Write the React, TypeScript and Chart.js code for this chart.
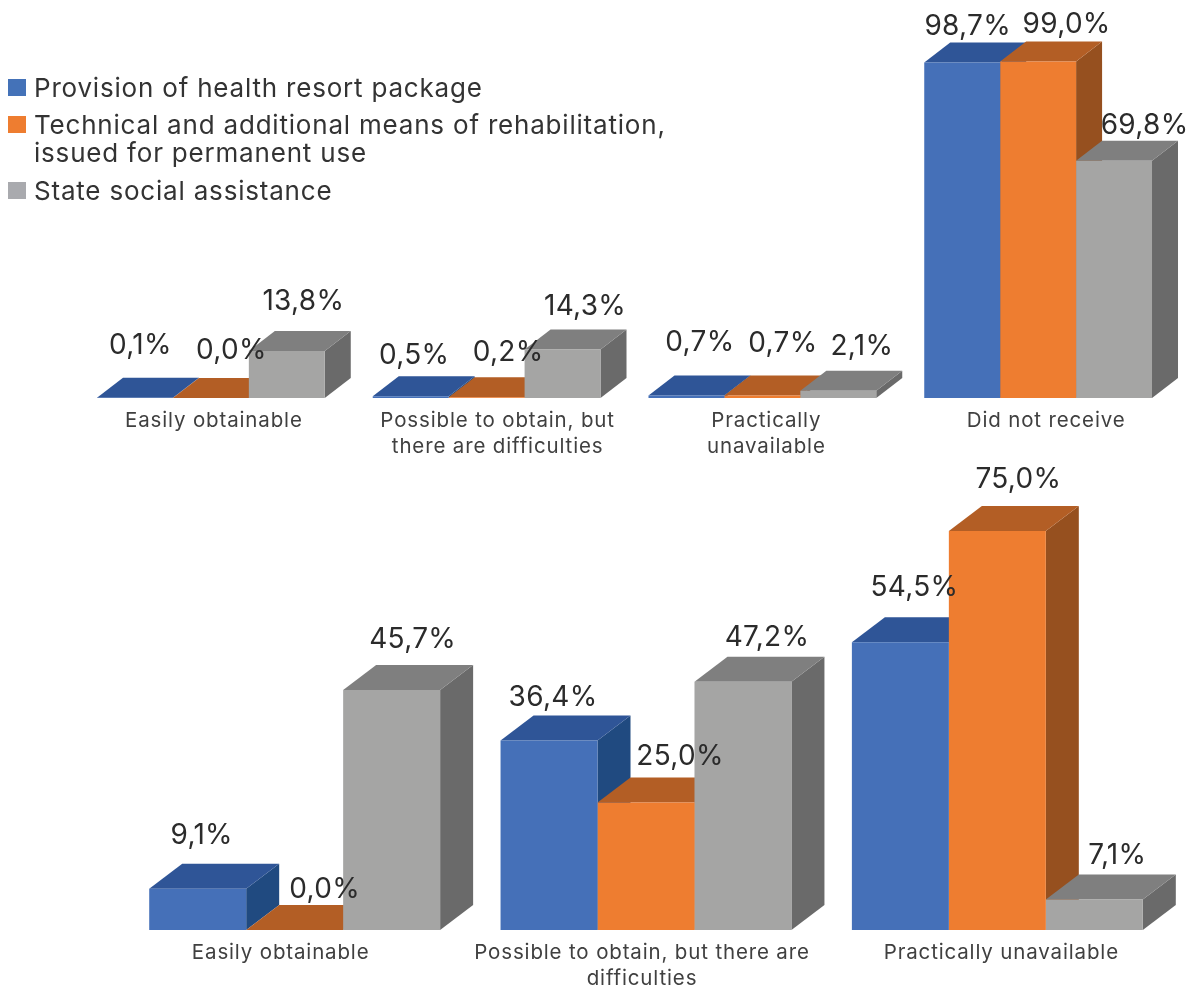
import React, { useEffect, useRef } from "react";
import { Chart, registerables } from "chart.js";

Chart.register(...registerables);

const FONT = "Inter";
const seriesNames = [
  ["Provision of health resort package"],
  ["Technical and additional means of rehabilitation,", "issued for permanent use"],
  ["State social assistance"],
];

const topCategories = [
  "Easily obtainable",
  ["Possible to obtain, but", "there are difficulties"],
  ["Practically", "unavailable"],
  "Did not receive",
];
const topResort = [0.1, 0.5, 0.7, 98.7];
const topMeans = [0.0, 0.2, 0.7, 99.0];
const topAssistance = [13.8, 14.3, 2.1, 69.8];

const bottomCategories = [
  "Easily obtainable",
  ["Possible to obtain, but there are", "difficulties"],
  "Practically unavailable",
];
const bottomResort = [9.1, 36.4, 54.5];
const bottomMeans = [0.0, 25.0, 75.0];
const bottomAssistance = [45.7, 47.2, 7.1];

const frontColors = ["#4570B8", "#EE7D30", "#A5A5A4"];
const topColors = ["#2F5597", "#B35E25", "#7F7F7F"];
const sideColors = ["#204A80", "#96501F", "#6A6A6A"];
const swatchColors = ["#4472B8", "#EE7D30", "#A9AAAE"];

const topLabelOffsets = [
  [[5, -53], [3, -42], [13, -54], [5, -37]],
  [[20, -48], [21, -46], [20, -53], [28, -38]],
  [[16, -51], [22, -44], [23, -45], [30, -36]],
];
const bottomLabelOffsets = [
  [[3.5, -54], [3.5, -44], [13.5, -56]],
  [[29.5, -41], [33.5, -47], [20.5, -52]],
  [[20.5, -51], [23.5, -45], [22.5, -45]],
];

type Cfg = {
  categories: any[];
  series: number[][];
  depthX: number;
  depthY: number;
  labelOffsets: number[][][];
  tickShift: number[];
  paddingLeft: number;
  paddingRight: number;
  axisHeight: number;
  tickPadding: number;
  yMin: number;
  yMax: number;
  catPct: number;
};

function makeChart(canvas: HTMLCanvasElement, cfg: Cfg) {
  const bars3d = {
    id: "bars3d",
    beforeDraw(chart: any) {
      chart.ctx.letterSpacing = "0.85px";
    },
    beforeDatasetsDraw(chart: any) {
      const ctx = chart.ctx;
      const dx = cfg.depthX;
      const dy = cfg.depthY;
      chart.data.datasets.forEach((_: any, d: number) => {
        chart.getDatasetMeta(d).data.forEach((bar: any) => {
          const l = bar.x - bar.width / 2;
          const r = bar.x + bar.width / 2;
          const b = chart.scales.y.bottom;
          const t = Math.min(bar.y, b);
          ctx.fillStyle = sideColors[d];
          ctx.beginPath();
          ctx.moveTo(r, t);
          ctx.lineTo(r + dx, t - dy);
          ctx.lineTo(r + dx, b - dy);
          ctx.lineTo(r, b);
          ctx.closePath();
          ctx.fill();
          ctx.fillStyle = topColors[d];
          ctx.beginPath();
          ctx.moveTo(l, t);
          ctx.lineTo(l + dx, t - dy);
          ctx.lineTo(r + dx, t - dy);
          ctx.lineTo(r, t);
          ctx.closePath();
          ctx.fill();
        });
      });
    },
    afterDatasetsDraw(chart: any) {
      const ctx = chart.ctx;
      ctx.save();
      ctx.font = `400 28px ${FONT}`;
      ctx.letterSpacing = "0.3px";
      ctx.fillStyle = "#2B2B2B";
      ctx.textAlign = "center";
      ctx.textBaseline = "middle";
      chart.data.datasets.forEach((ds: any, d: number) => {
        chart.getDatasetMeta(d).data.forEach((bar: any, i: number) => {
          const [ox, oy] = cfg.labelOffsets[d][i];
          const t = Math.min(bar.y, chart.scales.y.bottom);
          ctx.fillText(ds.data[i].toFixed(1).replace(".", ",") + "%", bar.x + ox + 0.5, t + oy + 1);
        });
      });
      ctx.restore();
    },
    afterUpdate(chart: any) {
      chart.scales.x.getLabelItems().forEach((item: any, i: number) => {
        item.options.translation[0] += cfg.tickShift[i];
      });
    },
  };

  return new Chart(canvas, {
    type: "bar",
    data: {
      labels: cfg.categories,
      datasets: cfg.series.map((data, d) => ({
        label: seriesNames[d].join(" "),
        data,
        backgroundColor: frontColors[d],
        borderWidth: 0,
        barPercentage: 1,
        categoryPercentage: cfg.catPct,
      })),
    },
    options: {
      responsive: false,
      animation: false,
      layout: {
        padding: { left: cfg.paddingLeft, right: cfg.paddingRight, top: 0, bottom: 0 },
      },
      plugins: { legend: { display: false }, tooltip: { enabled: false } },
      scales: {
        x: {
          grid: { display: false },
          border: { display: false },
          afterFit(scale: any) {
            scale.height = cfg.axisHeight;
          },
          ticks: {
            color: "#404040",
            padding: cfg.tickPadding,
            autoSkip: false,
            maxRotation: 0,
            minRotation: 0,
            font: { family: FONT, size: 20.5, weight: "400", lineHeight: 1.25 },
          },
        },
        y: { display: false, min: cfg.yMin, max: cfg.yMax },
      },
    },
    plugins: [bars3d],
  } as any);
}

export default function App() {
  const topRef = useRef<HTMLCanvasElement>(null);
  const bottomRef = useRef<HTMLCanvasElement>(null);

  useEffect(() => {
    const a = makeChart(topRef.current!, {
      categories: topCategories,
      series: [topResort, topMeans, topAssistance],
      depthX: 26,
      depthY: 20,
      labelOffsets: topLabelOffsets,
      tickShift: [3, 11, 4, 8],
      paddingLeft: 73,
      paddingRight: 16,
      axisHeight: 62,
      tickPadding: 2,
      yMin: 0,
      yMax: 117.06,
      catPct: 0.826,
    });
    const b = makeChart(bottomRef.current!, {
      categories: bottomCategories,
      series: [bottomResort, bottomMeans, bottomAssistance],
      depthX: 33,
      depthY: 25,
      labelOffsets: bottomLabelOffsets,
      tickShift: [-14, -4, 4],
      paddingLeft: 119,
      paddingRight: 19,
      axisHeight: 56,
      tickPadding: 2,
      yMin: 1.5,
      yMax: 88.06,
      catPct: 0.828,
    });
    return () => {
      a.destroy();
      b.destroy();
    };
  }, []);

  const lineTops = [[88], [125, 153], [191]];

  return (
    <div style={{ position: "absolute", left: 0, top: 0, width: 1192, height: 986, overflow: "hidden", background: "#fff" }}>
      <canvas ref={topRef} width={1192} height={460} style={{ position: "absolute", left: 0, top: 0, display: "block" }} />
      <canvas ref={bottomRef} width={1192} height={526} style={{ position: "absolute", left: 0, top: 460, display: "block" }} />
      {seriesNames.map((lines, s) => (
        <React.Fragment key={s}>
          <div style={{ position: "absolute", left: 8, top: lineTops[s][0] - 9, width: 18, height: 17, background: swatchColors[s] }} />
          {lines.map((t, i) => (
            <div
              key={i}
              style={{
                position: "absolute",
                left: 34,
                top: lineTops[s][i] - 16,
                height: 32,
                lineHeight: "32px",
                whiteSpace: "nowrap",
                fontFamily: FONT,
                fontWeight: 400,
                fontSize: 26,
                letterSpacing: "0.8px",
                color: "#333333",
              }}
            >
              {t}
            </div>
          ))}
        </React.Fragment>
      ))}
    </div>
  );
}
